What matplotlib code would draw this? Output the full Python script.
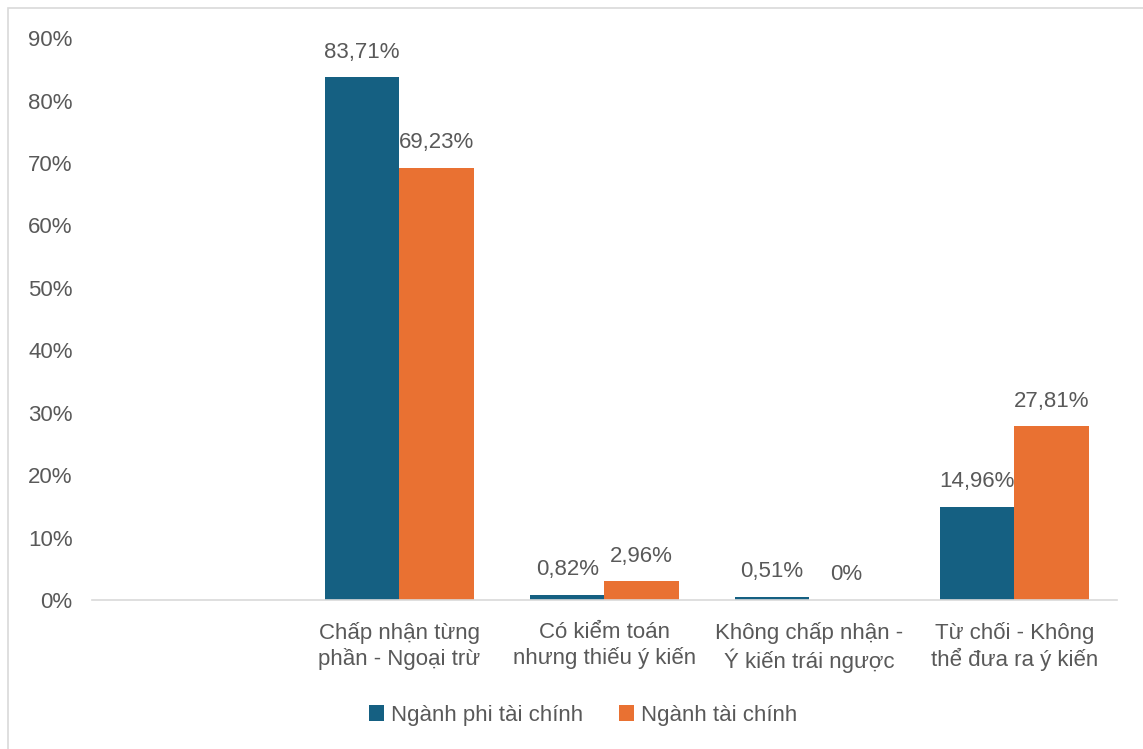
import matplotlib

matplotlib.use("Agg")

import matplotlib.pyplot as plt
import numpy as np
from matplotlib.patches import Rectangle

# ---------------------------------------------------------------------------
# Data
# ---------------------------------------------------------------------------
categories = [
    "",
    "Chấp nhận từng\nphần - Ngoại trừ",
    "Có kiểm toán\nnhưng thiếu ý kiến",
    "Không chấp nhận -\nÝ kiến trái ngược",
    "Từ chối - Không\nthể đưa ra ý kiến",
]
non_financial = [np.nan, 83.71, 0.82, 0.51, 14.96]
financial = [np.nan, 69.23, 2.96, 0.0, 27.81]
series_names = ["Ngành phi tài chính", "Ngành tài chính"]
y_ticks = [0, 10, 20, 30, 40, 50, 60, 70, 80, 90]

BLUE = "#156082"
ORANGE = "#E97132"
TEXT = "#595959"

plt.rcParams["font.family"] = ["Liberation Sans", "DejaVu Sans"]


def _fmt(v: float) -> str:
    if v == 0:
        return "0%"
    return f"{v:.2f}".replace(".", ",") + "%"


fig = plt.figure(figsize=(11.43, 7.49), dpi=100)
ax = fig.add_axes([0.0805, 0.199, 0.8965, 0.750])

x = np.arange(len(categories))
w = 0.363
groups = [(non_financial, BLUE, -w / 2), (financial, ORANGE, w / 2)]
for (vals, colour, off), name in zip(groups, series_names):
    bars = ax.bar(x + off, vals, width=w, color=colour, label=name)
    for rect, v in zip(bars, vals):
        if np.isnan(v):
            continue
        ax.annotate(
            _fmt(v),
            (rect.get_x() + rect.get_width() / 2, v),
            xytext=(0, 18), textcoords="offset points",
            ha="center", va="center", fontsize=16, color=TEXT,
        )

ax.set_xlim(-0.5, len(categories) - 0.5)
ax.set_ylim(0, 90)
ax.set_yticks(y_ticks, labels=[f"{t}%" for t in y_ticks])
ax.set_xticks(x, labels=categories)
ax.tick_params(axis="y", length=0, pad=14, labelsize=16, labelcolor=TEXT)
ax.tick_params(axis="x", length=0, pad=16, labelsize=16, labelcolor=TEXT)
for lbl in ax.get_xticklabels():
    lbl.set_linespacing(1.2)
for side in ("top", "right", "left"):
    ax.spines[side].set_visible(False)
ax.spines["bottom"].set_color("#D9D9D9")
ax.spines["bottom"].set_linewidth(1.2)

ax.legend(
    loc="center", bbox_to_anchor=(0.51, 1 - 715 / 749), bbox_transform=fig.transFigure,
    ncol=2, frameon=False, fontsize=16, labelcolor=TEXT,
    handlelength=0.7, handleheight=0.7, handletextpad=0.3, columnspacing=1.6,
)

# chart-area border
fig.patches.append(Rectangle(
    (8 / 1143, -0.01), 1.0, 1 - 8 / 749 + 0.01,
    transform=fig.transFigure, fill=False, edgecolor="#D9D9D9", linewidth=1.2,
))

fig.savefig("out.png", dpi=100)
